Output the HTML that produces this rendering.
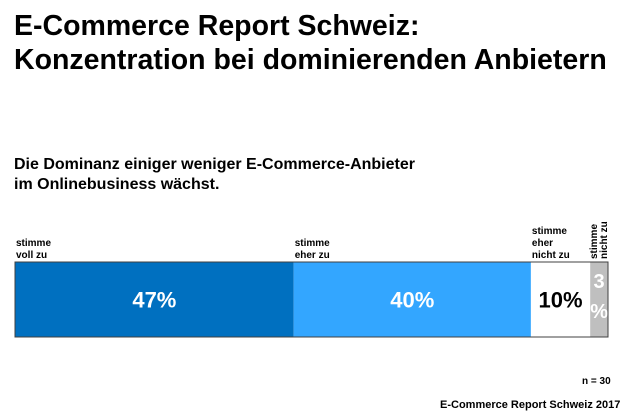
<!DOCTYPE html>
<html><head><meta charset="utf-8"><style>
body{margin:0;width:630px;height:412px;background:#fff;font-family:"Liberation Sans",Arial,sans-serif;position:relative;overflow:hidden}
.t{position:absolute;color:#000;font-weight:bold}
</style></head><body>
<div class="t" style="left:14px;top:9px;font-size:28.5px;line-height:34px">E-Commerce Report Schweiz:<br>Konzentration bei dominierenden Anbietern</div>
<div class="t" style="left:14px;top:155px;font-size:16px;line-height:20px">Die Dominanz einiger weniger E-Commerce-Anbieter<br>im Onlinebusiness wächst.</div>
<svg id="c" width="630" height="412" style="position:absolute;left:0;top:0"></svg>
<div class="t" style="left:582px;top:376px;font-size:10px">n = 30</div>
<div class="t" style="left:440px;top:399px;font-size:11px">E-Commerce Report Schweiz 2017</div>
<script>
const categories=["stimme voll zu","stimme eher zu","stimme eher nicht zu","stimme nicht zu"];
const values=[47,40,10,3];
const colors=["#0070c0","#33a6ff","#ffffff","#bfbfbf"];
const textColors=["#fff","#fff","#000","#fff"];
const x0=15,x1=608,yTop=262,yBot=337;
const sx=v=>x0+(x1-x0)*v/100;
const svg=document.getElementById('c');const NS="http://www.w3.org/2000/svg";
let cum=0;
values.forEach((v,i)=>{
 const a=sx(cum),b=sx(cum+v);cum+=v;
 const r=document.createElementNS(NS,'rect');
 r.setAttribute('x',a);r.setAttribute('y',yTop);r.setAttribute('width',b-a);r.setAttribute('height',yBot-yTop);r.setAttribute('fill',colors[i]);
 
 
 svg.appendChild(r);
 const cx=(a+b)/2;
 if(v>=5){
  const t=document.createElementNS(NS,'text');
  t.setAttribute('x',cx);t.setAttribute('y',(yTop+yBot)/2+8);t.setAttribute('text-anchor','middle');
  t.setAttribute('font-size','22');t.setAttribute('font-weight','bold');t.setAttribute('fill',textColors[i]);
  t.setAttribute('font-family','Liberation Sans, sans-serif');t.textContent=v+'%';
  
  
  svg.appendChild(t);
 }else{
  [String(v),'%'].forEach((s,k)=>{
   const t=document.createElementNS(NS,'text');
   t.setAttribute('x',cx);t.setAttribute('y',yTop+26+k*30);t.setAttribute('text-anchor','middle');
   t.setAttribute('font-size','20');t.setAttribute('font-weight','bold');t.setAttribute('fill',textColors[i]);
   t.setAttribute('font-family','Liberation Sans, sans-serif');t.textContent=s;
   
   
   svg.appendChild(t);
  });
 }
 const g=document.createElementNS(NS,'text');
 g.setAttribute('font-size','10');g.setAttribute('font-weight','bold');g.setAttribute('font-family','Liberation Sans, sans-serif');
 
 
 if(v>=5){
  const words=categories[i]==="stimme eher nicht zu"?["stimme","eher","nicht zu"]:["stimme",categories[i].replace("stimme ","")];
  words.forEach((w,k)=>{const ts=document.createElementNS(NS,'tspan');ts.setAttribute('x',a+1);ts.setAttribute('y',yTop-4-(words.length-1-k)*12);ts.textContent=w;g.appendChild(ts);});
 }else{
  g.setAttribute('transform','translate('+(cx+4)+','+(yTop-3)+') rotate(-90)');
  ["stimme","nicht zu"].forEach((w,k)=>{const ts=document.createElementNS(NS,'tspan');ts.setAttribute('x',0);ts.setAttribute('y',k*10-6);ts.textContent=w;g.appendChild(ts);});
 }
 svg.appendChild(g);
});
const o=document.createElementNS(NS,'rect');
o.setAttribute('x',x0);o.setAttribute('y',yTop);o.setAttribute('width',x1-x0);o.setAttribute('height',yBot-yTop);
o.setAttribute('fill','none');o.setAttribute('stroke','#404040');o.setAttribute('stroke-width','1');


svg.appendChild(o);
</script>
</body></html>
